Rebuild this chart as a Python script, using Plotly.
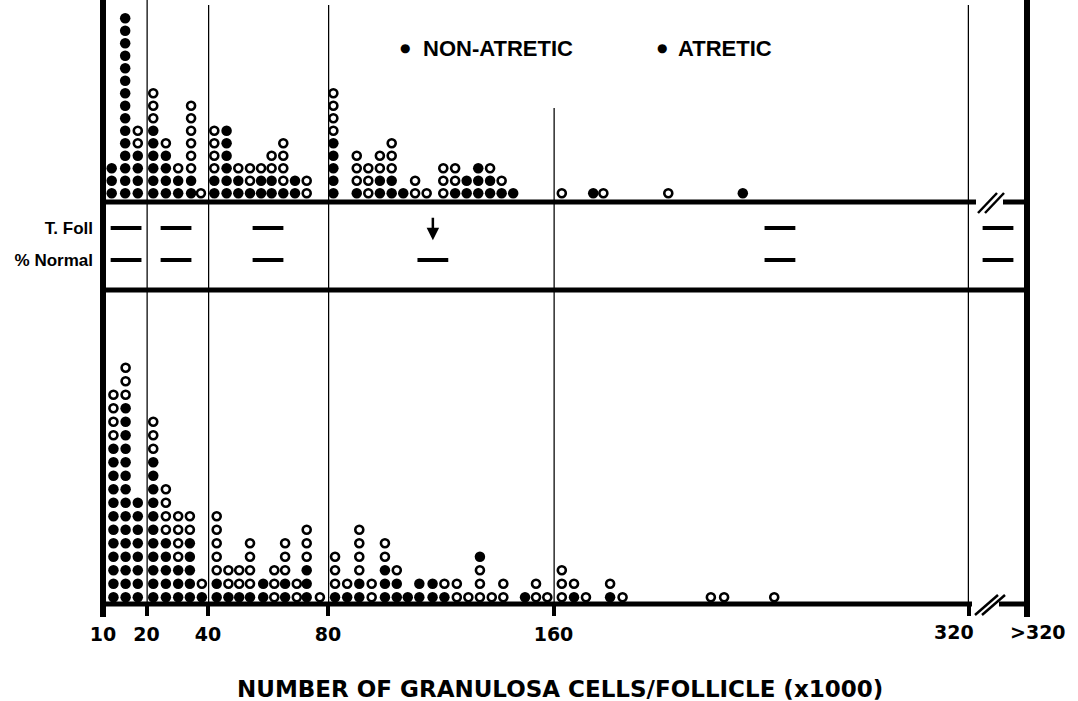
import plotly.graph_objects as go

# ---------------- data ----------------
tick_values = [10, 20, 40, 80, 160, 320]
tick_labels = ["10", "20", "40", "80", "160", "320"]
open_bin_label = ">320"

# top panel: column position (x1000 cells) and stack of follicles bottom->top
# F = filled symbol, O = open symbol
top_x = [12.0, 15.1, 18.0, 22.2, 26.3, 30.3, 34.5, 37.7, 42.1, 46.2, 50.1, 54.0,
         57.7, 61.2, 65.1, 69.0, 72.9, 81.9, 90.2, 94.3, 98.4, 102.6, 106.7,
         110.9, 115.0, 120.9, 125.1, 129.2, 133.3, 137.5, 141.6, 145.7, 163.2,
         175.3, 179.2, 204.2, 232.9]
top_stack = ["FFF", "FFFFFFFFFFFFFFF", "FFFFOO", "FFFFFFOOO", "FFFFO", "FFO",
             "FFOOOOOO", "O", "FFOOOO", "FFFFFF", "FFO", "FOO", "FFO", "FFOO",
             "FOOOO", "FF", "OO", "FFFFFOOOO", "FOOO", "OOO", "FFOO", "FFOOO",
             "F", "OO", "O", "OOO", "FOO", "FF", "FFF", "FFO", "FO", "F", "O",
             "F", "O", "O", "F"]

bottom_x = [12.4, 15.2, 18.0, 22.2, 26.3, 30.3, 34.1, 38.0, 42.9, 46.8, 50.4,
            54.0, 58.4, 62.1, 65.7, 69.6, 72.9, 77.3, 82.5, 86.8, 91.1, 95.5,
            100.2, 104.4, 108.3, 112.4, 117.1, 121.3, 125.7, 129.8, 133.9,
            138.1, 142.2, 149.9, 153.8, 157.8, 163.2, 167.9, 172.5, 181.8,
            186.6, 220.6, 225.7, 245.0]
bottom_stack = ["FFFFFFFFFFFFOOOO", "FFFFFFFFFFFFFFFOOO", "FFFFFFFF",
                "FFFFFFFFFFFOOO", "FFFFFOOOO", "FFFOOOO", "FFFFFOO", "FO",
                "FFOOOOO", "FOO", "FOO", "FOOOO", "FF", "OOO", "FFOOO", "OO",
                "FFFOOO", "O", "FOOO", "FO", "FFOOOO", "OO", "FFFOO", "FFO",
                "F", "FF", "FF", "FO", "OO", "O", "OOOF", "O", "OO", "F", "OO",
                "O", "OOO", "FO", "O", "FO", "O", "O", "O", "O"]

row_labels = ["% Normal", "T. Foll"]
tfoll_dash_x = [15.3, 29.6, 60.0, 247.2]
tfoll_arrow_x = [117.2]
normal_dash_x = [15.3, 29.6, 60.0, 117.2, 247.2]

legend_labels = ["NON-ATRETIC", "ATRETIC"]
x_title = "NUMBER OF GRANULOSA CELLS/FOLLICLE (x1000)"

# ---------------- geometry / style (pixels) ----------------
W, H = 1078, 701
SEG_PX = [103, 146.5, 208, 328, 553.5, 969, 1027]
TOP_LINE, MID_LINE, BASE = 202, 290, 604
TOP_UNIT, BOT_UNIT = 12.5, 13.5
LABEL_FONT = dict(family="DejaVu Sans", size=19, color="black", weight="bold")


def px(x):
    return x / W


def py(y):
    return 1 - y / H


def seg_of(v):
    for i in range(5):
        if tick_values[i] <= v < tick_values[i + 1]:
            return i
    return 4


def xname(i):
    return "x" if i == 0 else f"x{i + 1}"


fig = go.Figure()

STY = {
    "F": dict(symbol="circle", size=10.5, color="black"),
    "O": dict(symbol="circle-open", size=8, color="black", line=dict(width=2.6, color="black")),
}
NAMES = {"F": "atretic", "O": "non-atretic"}

for panel_y, xs, stacks in (("y3", top_x, top_stack), ("y", bottom_x, bottom_stack)):
    groups = {}
    for xv, st in zip(xs, stacks):
        s = seg_of(xv)
        for k, ch in enumerate(st):
            groups.setdefault((s, ch), ([], []))
            groups[(s, ch)][0].append(xv)
            groups[(s, ch)][1].append(k + 0.5)
    for (s, ch), (gx, gy) in groups.items():
        fig.add_trace(go.Scatter(x=gx, y=gy, mode="markers", xaxis=xname(s), yaxis=panel_y,
                                 marker=STY[ch], name=NAMES[ch], showlegend=False,
                                 cliponaxis=False))

# middle band dashes
dash_marker = dict(symbol="line-ew", size=22, color="black", line=dict(width=4, color="black"))
for xs, row in ((tfoll_dash_x, "T. Foll"), (normal_dash_x, "% Normal")):
    groups = {}
    for xv in xs:
        groups.setdefault(seg_of(xv), []).append(xv)
    for s, gx in groups.items():
        fig.add_trace(go.Scatter(x=gx, y=[row] * len(gx), mode="markers", xaxis=xname(s),
                                 yaxis="y2", marker=dash_marker, showlegend=False))
fig.add_trace(go.Scatter(x=[open_bin_label, open_bin_label], y=row_labels[::-1], mode="markers",
                         xaxis="x6", yaxis="y2", marker=dash_marker, showlegend=False))

layout = dict(
    width=W, height=H, margin=dict(l=0, r=0, t=0, b=0, autoexpand=False),
    paper_bgcolor="white", plot_bgcolor="rgba(0,0,0,0)", showlegend=False,
)

for i in range(5):
    key = "xaxis" if i == 0 else f"xaxis{i + 1}"
    tv = [tick_values[i]]
    tt = [tick_labels[i]]
    if i == 4:
        tv.append(tick_values[5])
        tt.append("")
    layout[key] = dict(domain=[px(SEG_PX[i]), px(SEG_PX[i + 1])],
                       range=[tick_values[i], tick_values[i + 1]], anchor="y",
                       showgrid=False, zeroline=False, showline=False, automargin=False,
                       tickmode="array", tickvals=tv, ticktext=tt,
                       ticks="outside", ticklen=11, tickwidth=4, tickcolor="black",
                       ticklabelstandoff=2, tickfont=LABEL_FONT)
layout["xaxis6"] = dict(domain=[px(SEG_PX[5]), px(SEG_PX[6])], type="category",
                        categoryarray=[open_bin_label], anchor="y", showgrid=False,
                        zeroline=False, showline=False, showticklabels=False, ticks="",
                        automargin=False)

layout["yaxis"] = dict(domain=[py(BASE), py(MID_LINE)], range=[0, (BASE - MID_LINE) / BOT_UNIT],
                       anchor="x", showgrid=False, zeroline=False, showline=False,
                       showticklabels=False, ticks="", automargin=False)
layout["yaxis2"] = dict(domain=[py(MID_LINE), py(TOP_LINE)], type="category",
                        categoryarray=row_labels, range=[-0.9375, 1.8125], anchor="x",
                        showgrid=False, zeroline=False, showline=False, ticks="",
                        ticklabelstandoff=9, automargin=False,
                        tickfont=dict(family="Liberation Sans", size=17, color="black",
                                      weight="bold"))
layout["yaxis3"] = dict(domain=[py(TOP_LINE), 1], range=[-0.2, TOP_LINE / TOP_UNIT - 0.2],
                        anchor="x", showgrid=False, zeroline=False, showline=False,
                        showticklabels=False, ticks="", automargin=False)
fig.update_layout(**layout)

# ---------------- frame lines ----------------
shapes = []


def vline(xref, x, y0, y1, w):
    shapes.append(dict(type="line", xref=xref, yref="paper", x0=x, x1=x, y0=py(y0), y1=py(y1),
                       line=dict(color="black", width=w)))


def hseg(x0, x1, y, w):
    shapes.append(dict(type="line", xref="paper", yref="paper", x0=px(x0), x1=px(x1),
                       y0=py(y), y1=py(y), line=dict(color="black", width=w)))


def slash(x0, y0, x1, y1):
    shapes.append(dict(type="line", xref="paper", yref="paper", x0=px(x0), x1=px(x1),
                       y0=py(y0), y1=py(y1), line=dict(color="black", width=2.5)))


vline("x domain", 0, 0, 617, 6)
vline("x2", 20, 0, BASE, 2.5)
vline("x3", 40, 5, BASE, 2.5)
vline("x4", 80, 5, BASE, 2.5)
vline("x5", 160, 108, BASE, 2.5)
vline("x5", 320, 5, BASE, 2.5)
vline("x6 domain", 1, 0, 617, 6)

hseg(103, 976, TOP_LINE, 5)
hseg(1003, 1027, TOP_LINE, 5)
hseg(103, 1027, MID_LINE, 5)
hseg(103, 972, BASE, 5)
hseg(999, 1027, BASE, 5)
slash(978, 213, 997, 193)
slash(985, 213, 1004, 193)
slash(975, 615, 998, 595)
slash(982, 615, 1005, 595)
fig.update_layout(shapes=shapes)

# ---------------- annotations ----------------
ann = []
ann.append(dict(xref="x4", yref="y2", x=tfoll_arrow_x[0], y=0.62, ax=0, ay=-24,
                showarrow=True, arrowhead=2, arrowsize=1, arrowwidth=2.5,
                arrowcolor="black", text=""))
ann.append(dict(xref="x5", yref="paper", x=tick_values[5], y=py(632), xshift=-15,
                xanchor="center", yanchor="middle",
                text=tick_labels[5], showarrow=False, font=LABEL_FONT))
ann.append(dict(xref="x6 domain", yref="paper", x=1, y=py(632), xshift=11,
                xanchor="center", yanchor="middle",
                text="&gt;" + tick_labels[5], showarrow=False, font=LABEL_FONT))
ann.append(dict(xref="paper", yref="paper", x=px(560), y=py(689), text=x_title,
                xanchor="center", yanchor="middle", showarrow=False,
                font=dict(family="DejaVu Sans", size=23, color="black", weight="bold")))
for dot_x, txt_x, lab in ((405, 421, legend_labels[0]), (662, 676, legend_labels[1])):
    ann.append(dict(xref="paper", yref="paper", x=px(dot_x), y=py(48), text="●",
                    xanchor="center", yanchor="middle", showarrow=False,
                    font=dict(family="DejaVu Sans", size=12, color="black")))
    ann.append(dict(xref="paper", yref="paper", x=px(txt_x), y=py(48), xanchor="left",
                    yanchor="middle", text=lab, showarrow=False,
                    font=dict(family="Liberation Sans", size=22, color="black", weight="bold")))
fig.update_layout(annotations=ann)

fig.write_html("out.html")
